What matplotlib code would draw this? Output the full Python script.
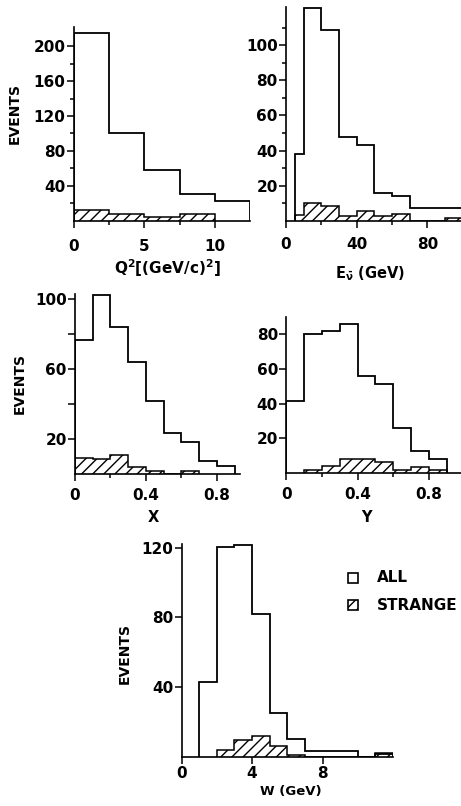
import numpy as np
import matplotlib
matplotlib.use("Agg")
import matplotlib.pyplot as plt
from matplotlib.patches import Rectangle

plt.rcParams['font.family'] = ['DejaVu Sans']
plt.rcParams['font.weight'] = 'bold'
plt.rcParams['mathtext.fontset'] = 'dejavusans'
plt.rcParams['hatch.linewidth'] = 1.0

# Q^2 [(GeV/c)^2]
q2_edges = [0, 2.5, 5, 7.5, 10, 12.5]
q2_all = [215, 101, 58, 31, 22]
q2_str_edges = [0, 2.5, 5, 7.5, 10]
q2_str = [12.5, 7, 4.5, 7]

# E_nubar (GeV)
e_edges = [5, 10, 20, 30, 40, 50, 60, 70, 100]
e_all = [38, 121, 109, 48, 43, 16, 14, 7.5]
e_str_edges = [5, 10, 20, 30, 40, 50, 60, 70, 90, 100]
e_str = [3.5, 10, 8.5, 2.7, 5.6, 2.5, 3.7, 0, 1.8]

# X
x_edges = [0, 0.1, 0.2, 0.3, 0.4, 0.5, 0.6, 0.7, 0.8, 0.9]
x_all = [76.5, 102.5, 84, 64, 42, 23.5, 18.5, 7.5, 4.5]
x_str_edges = [0, 0.1, 0.2, 0.3, 0.4, 0.5, 0.6, 0.7]
x_str = [9, 8.3, 10.8, 4.2, 1.7, 0, 1.7]

# Y
y_edges = [0, 0.1, 0.2, 0.3, 0.4, 0.5, 0.6, 0.7, 0.8, 0.9]
y_all = [41.5, 80, 82, 86, 56, 51, 26, 12.5, 8]
y_str_edges = [0.1, 0.2, 0.3, 0.4, 0.5, 0.6, 0.7, 0.8, 0.9]
y_str = [1.5, 4, 8, 8, 6.5, 1.5, 3.5, 2]

# W (GeV)
w_edges = [1, 2, 3, 4, 5, 6, 7, 10, 11, 12]
w_all = [43, 120.5, 121.5, 82, 25, 10, 3.5, 0, 1.5]
w_str_edges = [2, 3, 4, 5, 6, 7, 11, 12]
w_str = [3.9, 9.5, 12, 6, 1, 0, 2]

W, H = 461, 806
fig = plt.figure(figsize=(W / 100, H / 100), dpi=100)


def px_axes(left, right, bottom, top):
    return fig.add_axes([left / W, (H - bottom) / H, (right - left) / W, (bottom - top) / H])


def style(ax, xlim, ylim, xmaj, xmin, ymaj, ymin, ylabels, xpad=6):
    ax.set_xlim(*xlim)
    ax.set_ylim(*ylim)
    for s in ['top', 'right']:
        ax.spines[s].set_visible(False)
    for s in ['left', 'bottom']:
        ax.spines[s].set_linewidth(1.2)
    ax.set_xticks(xmaj)
    ax.set_xticklabels([f'{v:g}' for v in xmaj])
    ax.set_xticks(xmin, minor=True)
    ax.set_yticks(ymaj)
    ax.set_yticklabels([str(v) if v in ylabels else '' for v in ymaj])
    ax.set_yticks(ymin, minor=True)
    ax.tick_params(axis='x', which='major', length=5, width=1.1, pad=xpad, labelsize=11)
    ax.tick_params(axis='x', which='minor', length=3, width=1.1)
    ax.tick_params(axis='y', which='major', length=5, width=1.1, pad=1, labelsize=11)
    ax.tick_params(axis='y', which='minor', length=3, width=1.1)
    for lab in ax.get_xticklabels() + ax.get_yticklabels():
        lab.set_fontweight('bold')


def draw(ax, edges, vals, sedges, svals):
    ax.stairs(svals, sedges, fill=True, facecolor='white', edgecolor='black',
              hatch='///', linewidth=1.1, baseline=0)
    ax.stairs(vals, edges, fill=False, color='black', linewidth=1.3, baseline=0)


# panel 1
ax1 = px_axes(74, 250, 220.6, 27)
draw(ax1, q2_edges, q2_all, q2_str_edges, q2_str)
style(ax1, (0, 12.5), (0, 222), [0, 5, 10], [2.5, 7.5],
      [40, 80, 120, 160, 200], [20, 60, 100, 140, 180], [40, 80, 120, 160, 200], xpad=8)

# panel 2
ax2 = px_axes(286, 461, 220.7, 6.7)
draw(ax2, e_edges, e_all, e_str_edges, e_str)
style(ax2, (0, 99), (0, 122), [0, 40, 80], [20, 60],
      [20, 40, 60, 80, 100], [10, 30, 50, 70, 90, 110], [20, 40, 60, 80, 100], xpad=7)

# panel 3
ax3 = px_axes(75, 240, 474, 294)
draw(ax3, x_edges, x_all, x_str_edges, x_str)
style(ax3, (0, 0.93), (0, 103), [0, 0.4, 0.8], [0.2, 0.6],
      [20, 40, 60, 80, 100], [], [20, 60, 100], xpad=5)

# panel 4
ax4 = px_axes(286.3, 461, 473.1, 316.7)
draw(ax4, y_edges, y_all, y_str_edges, y_str)
style(ax4, (0, 0.98), (0, 90), [0, 0.4, 0.8], [0.2, 0.6],
      [20, 40, 60, 80], [], [20, 40, 60, 80], xpad=5)

# panel 5
ax5 = px_axes(181.5, 393, 756.7, 544.4)
draw(ax5, w_edges, w_all, w_str_edges, w_str)
style(ax5, (0, 12), (0, 122), [0, 4, 8], [],
      [40, 80, 120], [], [40, 80, 120], xpad=2)


def ptext(x, y, s, **kw):
    fig.text(x / W, 1 - y / H, s, ha='center', va='center', fontweight='bold', **kw)


ptext(15, 113, 'EVENTS', rotation=90, fontsize=10)
ptext(20, 383, 'EVENTS', rotation=90, fontsize=10)
ptext(125, 653, 'EVENTS', rotation=90, fontsize=10)

ptext(167, 268, r'$\mathbf{Q^2\left[(GeV/c)^2\right]}$', fontsize=11)
ptext(370, 274, r'$\mathbf{E}_{\bar{\mathbf{\nu}}}$' + ' (GeV)', fontsize=10.5)
ptext(153, 517, 'X', fontsize=10.5)
ptext(366, 517, 'Y', fontsize=10.5)
ptext(291, 792, 'W (GeV)', fontsize=9.5)

# legend
for yc, hatch, label in [(578, None, 'ALL'), (605, '///', 'STRANGE')]:
    sq = Rectangle((348 / W, 1 - (yc + 5) / H), 10 / W, 10 / H, transform=fig.transFigure,
                   facecolor='white', edgecolor='black', linewidth=1.2, hatch=hatch)
    fig.patches.append(sq)
    fig.text(377 / W, 1 - yc / H, label, ha='left', va='center', fontsize=11, fontweight='bold')

fig.savefig('out.png', dpi=100)
